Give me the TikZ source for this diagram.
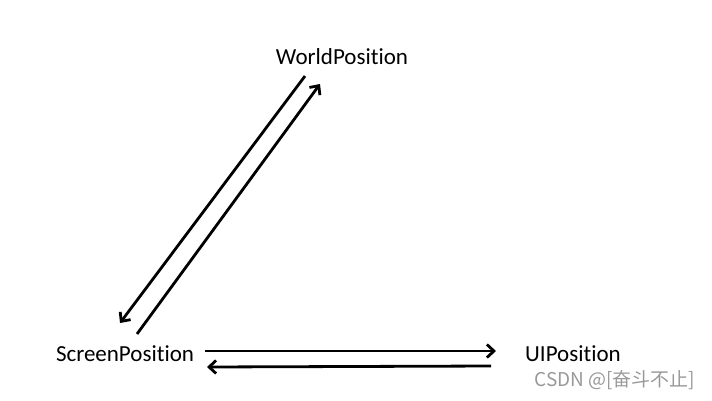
\documentclass[tikz,border=0pt]{standalone}
\usepackage{fontspec}
\setmainfont{Carlito}[Ligatures={NoCommon,NoContextual}]
\newfontfamily\cjk{Noto Sans CJK SC}
\usetikzlibrary{arrows.meta}
\begin{document}
\begin{tikzpicture}[x=1pt,y=-1pt,
  lbl/.style={font=\fontsize{23}{27}\selectfont, inner sep=0pt},
  conn/.style={line width=2.8pt, -{Straight Barb[length=7pt,width=13pt,line width=2.8pt]}}]
\useasboundingbox (0,0) rectangle (712,400);
\node[lbl] (world) at (342,57) {WorldPosition};
\node[lbl] (screen) at (125,354) {ScreenPosition};
\node[lbl] (ui) at (573,354) {UIPosition};
\node[font=\cjk\fontsize{19}{22}\selectfont, text=black!40, inner sep=0pt] (mark) at (615,380) {CSDN @[奋斗不止]};
\coordinate (a1s) at (305,76);
\coordinate (a1e) at (120,323);
\coordinate (a2s) at (137,334);
\coordinate (a2e) at (320,84);
\coordinate (a3s) at (205,351);
\coordinate (a3e) at (496,351);
\coordinate (a4s) at (491,366);
\coordinate (a4e) at (207,367);
\draw[conn] (a1s) -- (a1e);
\draw[conn] (a2s) -- (a2e);
\draw[conn] (a3s) -- (a3e);
\draw[conn] (a4s) -- (a4e);
\end{tikzpicture}
\end{document}
